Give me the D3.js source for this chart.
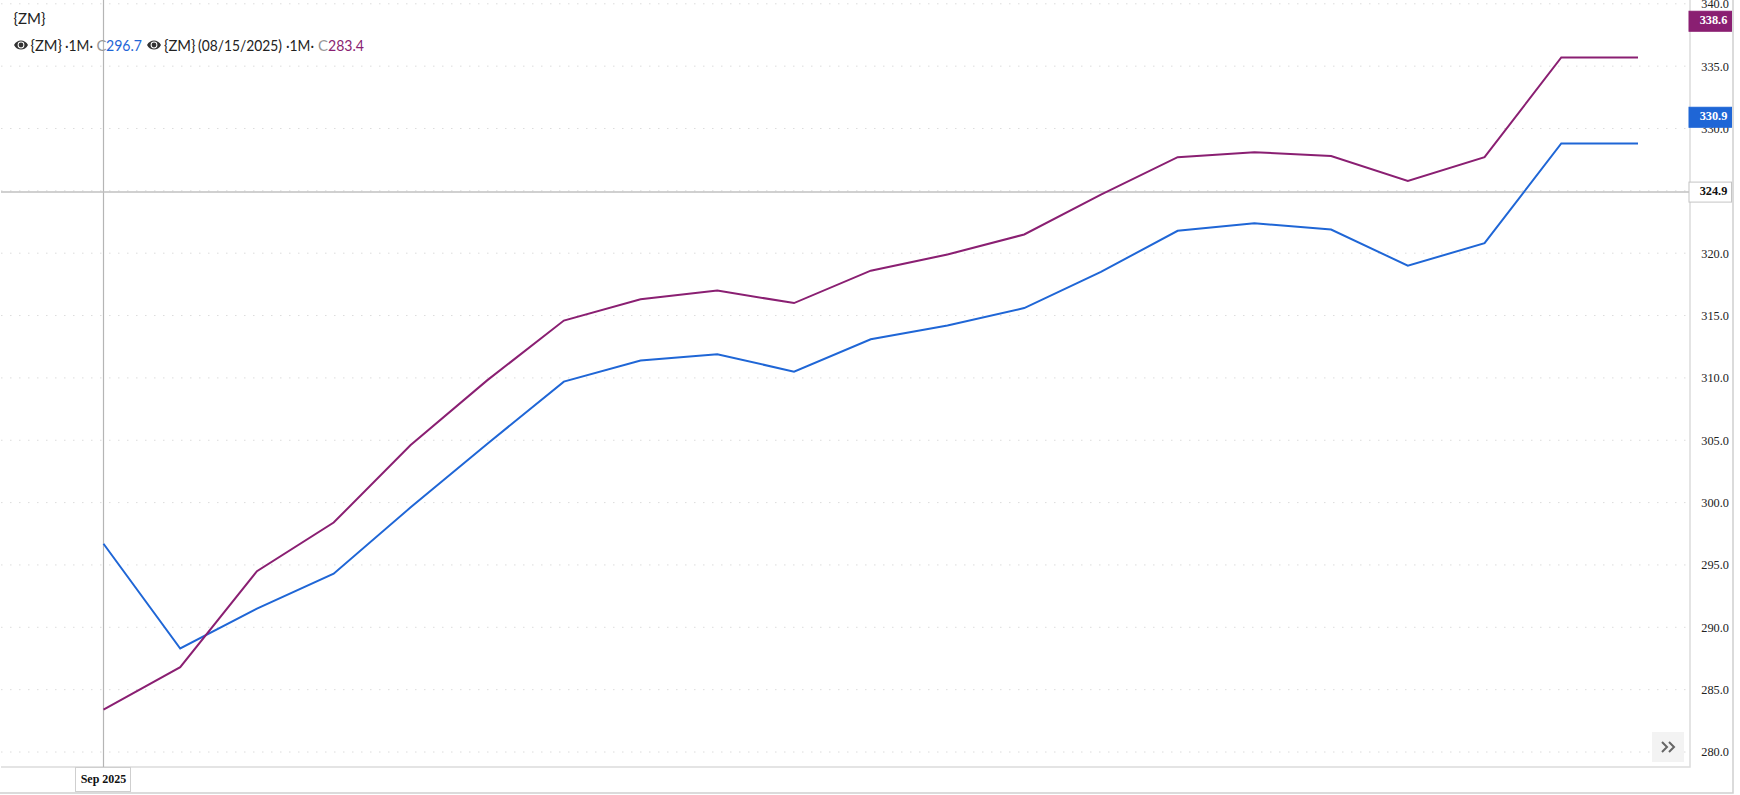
<!DOCTYPE html>
<html><head><meta charset="utf-8">
<script src="https://cdn.jsdelivr.net/npm/d3@7/dist/d3.min.js"></script>
<style>html,body{margin:0;padding:0;background:#fff;overflow:hidden}svg{display:block}</style>
</head><body><svg id="c" width="1740" height="795"></svg>
<script>
const months = ["Sep 2025","Oct 2025","Nov 2025","Dec 2025","Jan 2026","Feb 2026","Mar 2026","Apr 2026","May 2026","Jun 2026","Jul 2026","Aug 2026","Sep 2026","Oct 2026","Nov 2026","Dec 2026","Jan 2027","Feb 2027","Mar 2027","Apr 2027","May 2027"];
const seriesBlue = [296.7,288.3,291.5,294.3,299.6,304.7,309.7,311.4,311.9,310.5,313.1,314.2,315.6,318.5,321.8,322.4,321.9,319.0,320.8,328.8,328.8];
const seriesPurple = [283.4,286.8,294.5,298.4,304.6,309.8,314.6,316.3,317.0,316.0,318.6,319.9,321.5,324.7,327.7,328.1,327.8,325.8,327.7,335.7,335.7];
const yTicks = [280,285,290,295,300,305,310,315,320,325,330,335,340];
const tagPurple = 338.6, tagBlue = 330.9, crossValue = 324.9;
const legendTitle = "{ZM}";
const blue = "#1f66d6", purple = "#8a1f72";

const svg = d3.select("#c");
const x = d3.scalePoint().domain(months).range([103.5,1638]);
const y = d3.scaleLinear().domain([280,340]).range([752,3.8]);
const plotR = 1690, plotB = 767, axisR = 1733, outerB = 793;

// frame
svg.append("path").attr("d",`M1 ${plotB}H${plotR}V0`).attr("fill","none").attr("stroke","#dcdcdc").attr("stroke-width",1.5);
svg.append("path").attr("d",`M0 ${outerB}H${axisR}V0`).attr("fill","none").attr("stroke","#d0d0d0").attr("stroke-width",1.5);

// grid
svg.append("g").selectAll("line").data(yTicks).join("line")
  .attr("x1",1).attr("x2",plotR-4).attr("y1",d=>y(d)).attr("y2",d=>y(d))
  .attr("stroke","#dcdcdc").attr("stroke-dasharray","1.5 7.5");

// y axis
const ax = svg.append("g").attr("transform",`translate(${plotR},0)`)
  .call(d3.axisRight(y).tickValues(yTicks).tickFormat(d3.format(".1f")).tickSize(0).tickPadding(11.3));
ax.select(".domain").remove();
ax.selectAll("text").attr("font-family","'Liberation Serif'").attr("font-size",12.3).attr("fill","#222");

// crosshair
svg.append("line").attr("x1",x(months[0])).attr("x2",x(months[0])).attr("y1",0).attr("y2",plotB).attr("stroke","#b5b5b5").attr("stroke-width",1.2);
svg.append("line").attr("x1",1).attr("x2",plotR).attr("y1",y(crossValue)).attr("y2",y(crossValue)).attr("stroke","#c0c0c0").attr("stroke-width",1.5);

// lines
const line = d3.line().x((d,i)=>x(months[i])).y(d=>y(d));
[[seriesBlue,blue],[seriesPurple,purple]].forEach(([s,c])=>{
  svg.append("path").datum(s).attr("d",line).attr("fill","none").attr("stroke",c).attr("stroke-width",2).attr("stroke-linejoin","miter");
});

// value tags
function tag(v,bg,fg,stroke){
  const g=svg.append("g");
  g.append("rect").attr("x",1689).attr("y",y(v)-10).attr("width",42.5).attr("height",20).attr("fill",bg).attr("stroke",stroke).attr("stroke-width",1);
  g.append("text").attr("x",1713.5).attr("y",y(v)+2.8).attr("text-anchor","middle").attr("font-family","'Liberation Serif'").attr("font-weight","bold").attr("font-size",12.3).attr("fill",fg).text(v.toFixed(1));
}
tag(tagPurple,purple,"#fff",purple);
tag(tagBlue,blue,"#fff",blue);
tag(crossValue,"#fff","#111","#c4c4c4");

// x label
svg.append("rect").attr("x",75.5).attr("y",767.5).attr("width",55).attr("height",24).attr("fill","#fff").attr("stroke","#cfcfcf");
svg.append("text").attr("x",x(months[0])).attr("y",782.5).attr("text-anchor","middle").attr("font-family","'Liberation Serif'").attr("font-weight","bold").attr("font-size",12).attr("fill","#111").text(months[0]);

// legend
const lf = "Lato";
function t(xp,yp,s,c,w){
  const n=svg.append("text").attr("x",xp).attr("y",yp).attr("font-family",lf).attr("font-size",15).attr("fill",c).text(s);
  if(w) n.attr("textLength",w).attr("lengthAdjust","spacingAndGlyphs");
}
function eye(cx,cy){
  const g=svg.append("g").attr("transform",`translate(${cx},${cy})`);
  g.append("path").attr("d","M-7 0C-4 -6 4 -6 7 0C4 6 -4 6 -7 0Z").attr("fill","#333");
  g.append("circle").attr("r",3.4).attr("fill","#fff");
  g.append("circle").attr("r",2.4).attr("fill","#333");
}
t(13.5,24,legendTitle,"#222");
eye(21,45);
t(30.5,51,"{ZM}","#222",31.5);
t(65,51,"·1M·","#222",28);
t(96.5,51,"C","#999");
t(106,51,seriesBlue[0].toFixed(1),blue,36);
eye(154,45);
t(164,51,"{ZM}","#222",31.5);
t(198,51,"(08/15/2025)","#222",84);
t(286,51,"·1M·","#222",28);
t(318,51,"C","#999");
t(328,51,seriesPurple[0].toFixed(1),purple,36);

// scroll button
svg.append("rect").attr("x",1652).attr("y",732).attr("width",32).attr("height",30).attr("fill","#f3f3f3");
svg.append("path").attr("d","M1662 742l5 5l-5 5M1669 742l5 5l-5 5").attr("fill","none").attr("stroke","#666").attr("stroke-width",2);
</script></body></html>
